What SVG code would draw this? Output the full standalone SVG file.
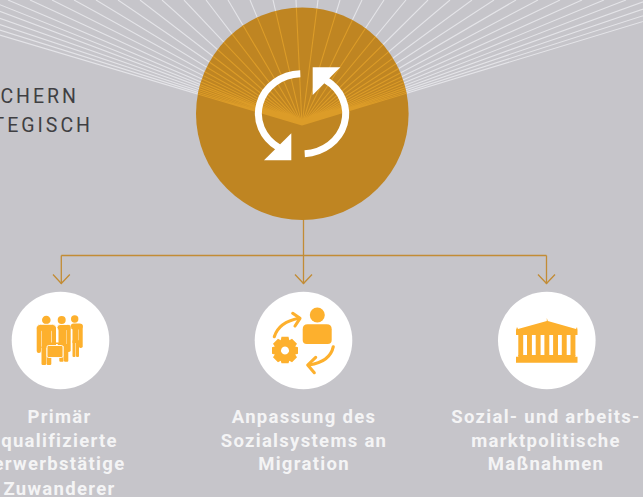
<svg xmlns="http://www.w3.org/2000/svg" width="643" height="497" viewBox="0 0 643 497">
<style>
.lab{font-family:"Roboto","Liberation Sans",sans-serif;font-weight:700;font-size:18.500px;letter-spacing:1.300px;fill:#f4f4f5;text-anchor:middle}
.hd{font-family:"Roboto","Liberation Sans",sans-serif;font-weight:400;font-size:19.500px;letter-spacing:3px;fill:#3f3f42;text-anchor:end}
.ic{fill:#fdb02d}
.disc{fill:#fff}
.conn{fill:none;stroke:#c28c35;stroke-width:1.300}
.sep{stroke:#fff;stroke-width:.9}
</style>
<defs>
<clipPath id="cc"><circle cx="302.300" cy="113.700" r="106.300"/></clipPath>
<path id="rays" d="M302 125L-118 0M302 125L-96 0M302 125L-74 0M302 125L-52 0M302 125L-30 0M302 125L-12 0M302 125L8 0M302 125L30 0M302 125L52 0M302 125L74 0M302 125L96 0M302 125L118 0M302 125L140 0M302 125L162 0M302 125L184 0M302 125L206 0M302 125L228 0M302 125L250 0M302 125L273 0M302 125L296 0M302 125L318 0M302 125L340 0M302 125L362 0M302 125L384 0M302 125L406 0M302 125L428 0M302 125L450 0M302 125L472 0M302 125L494 0M302 125L516 0M302 125L538 0M302 125L560 0M302 125L582 0M302 125L604 0M302 125L626 0M302 125L648 0M302 125L670 0M302 125L692 0M302 125L714 0"/>
</defs>
<rect width="643" height="497" fill="#c6c5ca"/>
<g id="rays-outer"><use href="#rays" fill="none" stroke="#e4e4e8" stroke-width="1.100"/></g>
<g id="connectors">
<path class="conn" d="M303.500 219V284M61.300 255.500H546.500M61.300 255.500V284M546.500 255.500V284"/>
<path class="conn" d="M53 274.500L61.300 283.500L69.800 274.500M295 274.500L303.500 283.500L312 274.500M538 274.500L546.500 283.500L555 274.500"/>
</g>
<g id="hub">
<circle cx="302.300" cy="113.700" r="106.300" fill="#bf8522"/>
<g clip-path="url(#cc)"><use href="#rays" fill="none" stroke="#dc9c28" stroke-width="1.100"/></g>
<path d="M300.300 73.700A43.500 40 0 0 0 278.500 147.400" fill="none" stroke="#fff" stroke-width="7"/>
<path d="M304.700 153.700A43.500 40 0 0 0 326 80.300" fill="none" stroke="#fff" stroke-width="7"/>
<path d="M291.300 133.300V160.300H264Z" fill="#fff"/>
<path d="M312.700 67.300H340.300L312.700 95Z" fill="#fff"/>
</g>
<g id="heading">
<text class="hd" x="79" y="103">CHERN</text>
<text class="hd" x="93" y="131.500">TEGISCH</text>
</g>
<g id="node-1">
<circle class="disc" cx="60.500" cy="340.500" r="48.800"/>
<g class="ic">
<circle cx="74.700" cy="319" r="3.700"/>
<rect x="70.700" y="323.500" width="12" height="6" rx="3"/>
<rect x="78.800" y="324" width="3.900" height="24" rx="1.800"/>
<rect x="72.500" y="325" width="6" height="18"/>
<rect x="72.500" y="340" width="3" height="17" rx="1"/>
<rect x="76" y="340" width="3" height="17" rx="1"/>
<circle cx="61.700" cy="320" r="4"/>
<rect x="57" y="324.500" width="13.700" height="6" rx="3" class="sep"/>
<rect x="66.800" y="325" width="3.900" height="27" rx="1.800"/>
<rect x="58.500" y="326" width="8" height="20"/>
<rect x="59.300" y="344" width="4.300" height="17.700" rx="1"/>
<rect x="64" y="344" width="4.300" height="17.700" rx="1"/>
<circle cx="46.300" cy="320" r="4.300"/>
<rect x="36.700" y="324.300" width="19.300" height="7" rx="3.500" class="sep"/>
<rect x="36.700" y="326" width="4.300" height="27" rx="2"/>
<rect x="51.700" y="326" width="4.300" height="24" rx="2"/>
<rect x="41.500" y="326" width="9.700" height="22"/>
<rect x="41.500" y="346" width="4.700" height="19" rx="1.200"/>
<rect x="46.600" y="346" width="4.700" height="19" rx="1.200"/>
<path d="M51.500 346.500V343.300H58.500V346.500" fill="none" stroke="#fdb02d" stroke-width="1.400"/>
<rect x="47" y="345.500" width="16" height="12" rx="1.500" class="sep"/>
</g>
</g>
<g id="node-2">
<circle class="disc" cx="303.500" cy="340.500" r="48.800"/>
<g class="ic">
<circle cx="317.300" cy="315" r="7.500"/>
<path d="M307.700 324.300H326.700Q331.700 324.300 331.700 329.300V340Q331.700 344 327.700 344H306.700Q302.700 344 302.700 340V329.300Q302.700 324.300 307.700 324.300Z"/>
<path fill-rule="evenodd" d="M281.500 336.700H288.500L289.300 340.300L292 338.800L297 343.800L295.200 346.500L298 347.200V353.800L295.200 354.500L297 357.200L292 362.200L289.300 360.700L288.500 363.300H281.500L280.700 360.700L278 362.200L273 357.200L274.800 354.500L272 353.800V347.200L274.800 346.500L273 343.800L278 338.800L280.700 340.300ZM285 346.500a4 4 0 1 0 .01 0Z"/>
</g>
<g fill="none" stroke="#fdb02d" stroke-width="3.100" stroke-linecap="round" stroke-linejoin="round">
<path d="M274.300 336.700Q279 322 299 318.300"/>
<path d="M292.700 313.300L300 318.300L295 326"/>
<path d="M333.300 346.700Q330 362 309 365"/>
<path d="M315.700 357.300L307.700 365L314.300 372.700"/>
</g>
</g>
<g id="node-3">
<circle class="disc" cx="546.800" cy="340.500" r="48.800"/>
<g class="ic">
<path d="M516 330L517 327L518 328.900L546.800 321V318L547.800 321L576 328.900L577 327L577.500 330V335H516Z"/>
<path d="M516 362.700V356.700H518.300V355H575.300V356.700H577.500V362.700Z"/>
<rect x="518.300" y="334" width="4.900" height="22"/>
<rect x="527" y="334" width="4.900" height="22"/>
<rect x="535.700" y="334" width="4.900" height="22"/>
<rect x="544.400" y="334" width="4.900" height="22"/>
<rect x="553.100" y="334" width="4.900" height="22"/>
<rect x="561.800" y="334" width="4.900" height="22"/>
<rect x="570.500" y="334" width="4.900" height="22"/>
</g>
</g>
<g id="labels">
<text class="lab" x="59.500" y="423">Primär</text>
<text class="lab" x="59.500" y="446.700">qualifizierte</text>
<text class="lab" x="59.500" y="470">erwerbstätige</text>
<text class="lab" x="59.500" y="494.500">Zuwanderer</text>
<text class="lab" x="304" y="423">Anpassung des</text>
<text class="lab" x="304" y="446.700">Sozialsystems an</text>
<text class="lab" x="304" y="470">Migration</text>
<text class="lab" x="546" y="423">Sozial- und arbeits-</text>
<text class="lab" x="546" y="446.700">marktpolitische</text>
<text class="lab" x="546" y="470">Maßnahmen</text>
</g>
</svg>
